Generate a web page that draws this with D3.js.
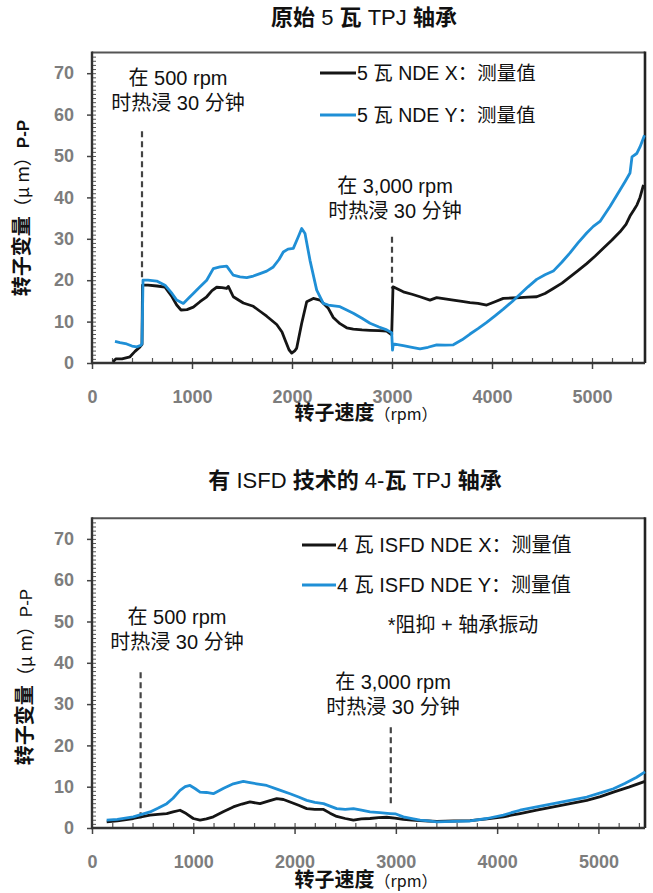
<!DOCTYPE html>
<html>
<head>
<meta charset="utf-8">
<script src="https://cdn.jsdelivr.net/npm/d3@7"></script>
<style>
  html, body { margin: 0; padding: 0; background: #fff; }
  svg { display: block; font-family: "Liberation Sans", Arial, "Noto Sans CJK SC", sans-serif; }
</style>
</head>
<body>
<svg id="chart" width="653" height="893"></svg>
<script>
// ---------- DATA ----------
const yTickValues = [0, 10, 20, 30, 40, 50, 60, 70];
const xTickValues = [0, 1000, 2000, 3000, 4000, 5000];

// Chart 1: original 5-pad TPJ
const topXrpm = [210, 240, 300, 380, 430, 480, 500, 505, 560, 650, 730, 800, 847, 890, 950, 1013, 1080, 1147, 1200, 1247, 1300, 1347, 1363, 1413, 1513, 1613, 1680, 1747, 1847, 1900, 1930, 1970, 1997, 2030, 2047, 2097, 2147, 2213, 2280, 2363, 2413, 2480, 2547, 2613, 2700, 2780, 2870, 2947, 2997, 3010, 3113, 3200, 3280, 3380, 3447, 3530, 3613, 3700, 3780, 3860, 3947, 4030, 4113, 4200, 4280, 4360, 4447, 4530, 4613, 4700, 4780, 4860, 4947, 5030, 5113, 5200, 5280, 5340, 5380, 5420, 5450, 5480, 5515];
const topXval = [0.3, 1.0, 1.0, 1.5, 2.8, 3.9, 4.5, 18.8, 18.8, 18.6, 18.3, 16.0, 14.0, 12.8, 12.9, 13.5, 14.8, 16.0, 17.5, 18.3, 18.2, 18.0, 18.5, 16.0, 14.5, 13.7, 12.5, 11.3, 9.3, 7.5, 5.6, 3.2, 2.4, 3.0, 3.6, 9.6, 14.8, 15.6, 15.2, 13.2, 11.0, 9.5, 8.5, 8.2, 8.0, 7.9, 7.8, 7.7, 6.8, 18.4, 17.2, 16.6, 16.0, 15.2, 15.8, 15.5, 15.2, 14.9, 14.6, 14.4, 14.0, 14.8, 15.6, 15.7, 15.8, 15.9, 16.0, 16.8, 18.0, 19.3, 20.8, 22.3, 24.0, 25.8, 27.7, 29.7, 31.7, 33.5, 35.5, 37.0, 38.2, 40.0, 43.0];

const topYrpm = [230, 280, 347, 400, 447, 490, 500, 510, 560, 647, 730, 800, 847, 913, 960, 1013, 1080, 1147, 1213, 1280, 1347, 1413, 1480, 1547, 1613, 1680, 1747, 1813, 1870, 1913, 1960, 2013, 2063, 2097, 2130, 2180, 2247, 2313, 2363, 2420, 2480, 2547, 2613, 2700, 2780, 2870, 2947, 2997, 3005, 3013, 3113, 3200, 3280, 3360, 3447, 3530, 3613, 3700, 3780, 3860, 3947, 4030, 4113, 4200, 4280, 4360, 4447, 4530, 4613, 4700, 4780, 4860, 4947, 5013, 5080, 5130, 5180, 5230, 5280, 5330, 5380, 5400, 5447, 5480, 5525];
const topYval = [5.2, 4.9, 4.6, 4.1, 3.9, 4.3, 4.7, 20.0, 20.0, 19.8, 18.8, 16.8, 15.2, 14.4, 15.5, 16.8, 18.4, 20.0, 22.8, 23.2, 23.4, 21.2, 20.8, 20.6, 21.0, 21.6, 22.2, 23.2, 25.0, 26.8, 27.5, 27.7, 30.5, 32.5, 31.3, 24.8, 17.6, 14.4, 14.0, 13.8, 13.6, 12.8, 12.0, 10.8, 9.6, 8.7, 8.0, 7.3, 3.1, 4.6, 4.2, 3.8, 3.4, 3.8, 4.4, 4.3, 4.4, 5.6, 7.0, 8.3, 9.8, 11.4, 13.0, 14.8, 16.6, 18.4, 20.2, 21.3, 22.2, 24.4, 26.6, 29.0, 31.4, 33.0, 34.2, 36.0, 37.8, 39.8, 41.8, 43.8, 45.9, 49.8, 50.6, 52.2, 55.0];

// Chart 2: 4-pad TPJ with ISFD
const botXrpm = [145, 250, 408, 573, 650, 738, 800, 869, 930, 1000, 1067, 1130, 1198, 1300, 1395, 1480, 1560, 1659, 1740, 1824, 1890, 1956, 2040, 2120, 2200, 2286, 2350, 2416, 2500, 2581, 2660, 2745, 2830, 2910, 2990, 3074, 3160, 3239, 3320, 3404, 3570, 3733, 3900, 4062, 4140, 4226, 4390, 4556, 4720, 4885, 5020, 5148, 5300, 5460];
const botXval = [1.5, 1.7, 2.3, 3.1, 3.3, 3.5, 3.9, 4.3, 3.5, 2.3, 1.9, 2.2, 2.7, 4.0, 5.1, 5.8, 6.3, 5.9, 6.5, 7.1, 6.9, 6.3, 5.5, 4.7, 4.5, 4.5, 3.6, 2.8, 2.3, 1.9, 2.2, 2.3, 2.5, 2.6, 2.4, 2.1, 1.9, 1.8, 1.7, 1.6, 1.7, 1.8, 2.2, 2.7, 3.1, 3.5, 4.3, 5.1, 5.9, 6.7, 7.6, 8.7, 9.9, 11.3];

const botYrpm = [145, 250, 408, 573, 650, 738, 800, 869, 920, 968, 1020, 1067, 1130, 1198, 1300, 1395, 1494, 1560, 1626, 1725, 1840, 1956, 2040, 2120, 2200, 2286, 2350, 2416, 2500, 2581, 2660, 2745, 2840, 2942, 3000, 3074, 3160, 3239, 3320, 3404, 3570, 3733, 3900, 4062, 4140, 4226, 4390, 4556, 4720, 4885, 5020, 5148, 5260, 5378, 5460];
const botYval = [1.9, 2.1, 2.7, 3.9, 4.8, 5.9, 7.2, 9.1, 10.0, 10.3, 9.5, 8.7, 8.6, 8.3, 9.6, 10.7, 11.3, 11.0, 10.7, 10.3, 9.3, 8.3, 7.5, 6.7, 6.2, 5.9, 5.3, 4.7, 4.5, 4.7, 4.3, 3.9, 3.7, 3.5, 3.4, 2.7, 2.3, 1.9, 1.7, 1.5, 1.6, 1.7, 2.3, 3.1, 3.7, 4.3, 5.1, 5.9, 6.7, 7.5, 8.5, 9.5, 10.8, 12.3, 13.6];

const topTitle = [["原始", true], [" 5 ", false], ["瓦", true], [" TPJ ", false], ["轴承", true]];
const botTitle = [["有", true], [" ISFD ", false], ["技术的", true], [" 4-", false], ["瓦", true], [" TPJ ", false], ["轴承", true]];
const topLegend = ["5 瓦 NDE X：测量值", "5 瓦 NDE Y：测量值"];
const botLegend = ["4 瓦 ISFD NDE X：测量值", "4 瓦 ISFD NDE Y：测量值"];
const botNote = "*阻抑 + 轴承振动";
const annot500 = ["在 500 rpm", "时热浸 30 分钟"];
const annot3000 = ["在 3,000 rpm", "时热浸 30 分钟"];
// dashed marker lines: [rpm, from value, to value]
const topMarkers = [[500, 56, 20], [3000, 30.5, 18]];
const botMarkers = [[480, 37.7, 2], [2950, 24.4, 5]];

// ---------- DRAW ----------
const svg = d3.select("#chart");
const BLACK = "#151515", BLUE = "#1f8fd6";
const LATIN = "'Liberation Sans', Arial, sans-serif";
const CJK = "'Noto Sans CJK SC', sans-serif";

function drawChart(cfg) {
  const g = svg.append("g");
  const x = d3.scaleLinear().domain([0, cfg.xmax]).range([92, 645]);
  const y = d3.scaleLinear().domain([0, 75]).range([cfg.y0, cfg.y0 - 75 * cfg.py]);

  // frame
  g.append("line").attr("x1", x(0)).attr("x2", x(cfg.xmax)).attr("y1", y(75)).attr("y2", y(75))
    .attr("stroke", "#555").attr("stroke-width", 2.2);
  g.append("line").attr("x1", x(cfg.xmax)).attr("x2", x(cfg.xmax)).attr("y1", y(75) - 1).attr("y2", y(0))
    .attr("stroke", "#222").attr("stroke-width", 2.6);

  // minor ticks
  g.append("g").attr("transform", `translate(${x(0)},0)`)
    .call(d3.axisLeft(y).tickValues(d3.range(0, 75, 1)).tickSize(-4).tickFormat(""))
    .call(a => a.select(".domain").remove())
    .call(a => a.selectAll("line").attr("stroke", "#555").attr("stroke-width", 1));
  g.append("g").attr("transform", `translate(0,${y(0)})`)
    .call(d3.axisBottom(x).tickValues(d3.range(200, cfg.xmax, 200)).tickSize(-5).tickFormat(""))
    .call(a => a.select(".domain").remove())
    .call(a => a.selectAll("line").attr("stroke", "#555").attr("stroke-width", 1.2));

  // major axes
  g.append("g").attr("transform", `translate(${x(0)},0)`)
    .call(d3.axisLeft(y).tickValues(yTickValues).tickSize(5).tickPadding(13).tickFormat(d3.format("d")))
    .call(a => a.select(".domain").remove())
    .call(a => a.selectAll("line").attr("stroke", "#444").attr("stroke-width", 1.5))
    .call(a => a.selectAll("text").attr("fill", "#7d7d7d").attr("font-size", 18).attr("font-weight", "bold")
      .attr("font-family", LATIN));
  g.append("g").attr("transform", `translate(0,${y(0)})`)
    .call(d3.axisBottom(x).tickValues(xTickValues).tickSize(6).tickPadding(21).tickFormat(d3.format("d")))
    .call(a => a.select(".domain").remove())
    .call(a => a.selectAll("line").attr("stroke", "#444").attr("stroke-width", 1.5))
    .call(a => a.selectAll("text").attr("fill", "#7d7d7d").attr("font-size", 18).attr("font-weight", "bold")
      .attr("font-family", LATIN));

  // axis lines
  g.append("line").attr("x1", x(0)).attr("x2", x(0)).attr("y1", y(75) - 1).attr("y2", y(0) + 1)
    .attr("stroke", "#333").attr("stroke-width", 2.4);
  g.append("line").attr("x1", x(0) - 1).attr("x2", x(cfg.xmax)).attr("y1", y(0)).attr("y2", y(0))
    .attr("stroke", "#333").attr("stroke-width", 2.4);

  // dashed markers
  cfg.markers.forEach(m => {
    g.append("line").attr("x1", x(m[0])).attr("x2", x(m[0])).attr("y1", y(m[1])).attr("y2", y(m[2]))
      .attr("stroke", "#444").attr("stroke-width", 2.2).attr("stroke-dasharray", "6,4");
  });

  // lines
  const line = d3.line().x(d => x(d[0])).y(d => y(d[1]));
  const mk = (r, v) => r.map((d, i) => [d, v[i]]);
  g.append("path").datum(mk(cfg.xr, cfg.xv)).attr("d", line).attr("fill", "none")
    .attr("stroke", BLACK).attr("stroke-width", 2.8).attr("stroke-linejoin", "round");
  g.append("path").datum(mk(cfg.yr, cfg.yv)).attr("d", line).attr("fill", "none")
    .attr("stroke", BLUE).attr("stroke-width", 2.8).attr("stroke-linejoin", "round");

  // title
  const t = svg.append("text").attr("x", cfg.titleX).attr("y", cfg.titleY).attr("text-anchor", "middle")
    .attr("font-size", 22).attr("fill", "#111");
  cfg.title.forEach(p => t.append("tspan").text(p[0]).attr("font-weight", p[1] ? "bold" : "normal")
    .attr("font-family", p[1] ? CJK : LATIN));

  // legend
  cfg.legend.forEach((txt, i) => {
    const ly = cfg.legY[i];
    g.append("line").attr("x1", cfg.legX1).attr("x2", cfg.legX2).attr("y1", ly).attr("y2", ly)
      .attr("stroke", i === 0 ? BLACK : BLUE).attr("stroke-width", 3.2);
    g.append("text").attr("x", cfg.legX2 + 1).attr("y", ly).attr("dy", "0.35em")
      .attr("font-size", cfg.legFont).attr("fill", "#111").text(txt);
  });

  // annotations
  cfg.annots.forEach(a => {
    a.lines.forEach((s, i) => {
      g.append("text").attr("x", a.x).attr("y", a.y + i * 25).attr("dy", "0.35em").attr("text-anchor", "middle")
        .attr("font-size", 20).attr("fill", "#111").text(s);
    });
  });

  // y label
  const yl = svg.append("text").attr("transform", `translate(${cfg.ylabX},${cfg.ylabY}) rotate(-90)`)
    .attr("text-anchor", "middle").attr("dy", "0.35em").attr("font-size", 20).attr("fill", "#111");
  yl.append("tspan").text("转子变量").attr("font-weight", "bold").attr("font-family", CJK);
  yl.append("tspan").text("（μ m）").attr("font-size", 18).attr("font-family", CJK);
  yl.append("tspan").text("P-P").attr("font-weight", cfg.ppBold ? "bold" : "normal").attr("font-size", 17);

  // x label
  const xl = svg.append("text").attr("x", cfg.xlabX).attr("y", cfg.xlabY).attr("dy", "0.35em")
    .attr("text-anchor", "middle").attr("font-size", 20).attr("fill", "#111");
  xl.append("tspan").text("转子速度").attr("font-weight", "bold").attr("font-family", CJK);
  xl.append("tspan").text("（rpm）").attr("font-size", 16).attr("font-family", CJK);

  return {x, y, g};
}

const c1 = drawChart({
  xmax: 5530, y0: 363, py: 4.14,
  xr: topXrpm, xv: topXval, yr: topYrpm, yv: topYval,
  markers: topMarkers,
  title: topTitle, titleX: 364, titleY: 25,
  legend: topLegend, legY: [73, 115], legX1: 320, legX2: 356, legFont: 19.5,
  annots: [{x: 178, y: 78, lines: annot500}, {x: 395, y: 186, lines: annot3000}],
  ylabX: 22, ylabY: 208, xlabX: 366, xlabY: 413, ppBold: true
});

const c2 = drawChart({
  xmax: 5460, y0: 828, py: 4.13,
  xr: botXrpm, xv: botXval, yr: botYrpm, yv: botYval,
  markers: botMarkers,
  title: botTitle, titleX: 355, titleY: 488,
  legend: botLegend, legY: [545, 585], legX1: 302, legX2: 336, legFont: 20,
  annots: [{x: 177, y: 617, lines: annot500}, {x: 393, y: 682, lines: annot3000}],
  ylabX: 25, ylabY: 677, xlabX: 366, xlabY: 880, ppBold: false
});
c2.g.append("text").attr("x", 463).attr("y", 625).attr("dy", "0.35em").attr("text-anchor", "middle")
  .attr("font-size", 20).attr("fill", "#111").text(botNote);
</script>
</body>
</html>
